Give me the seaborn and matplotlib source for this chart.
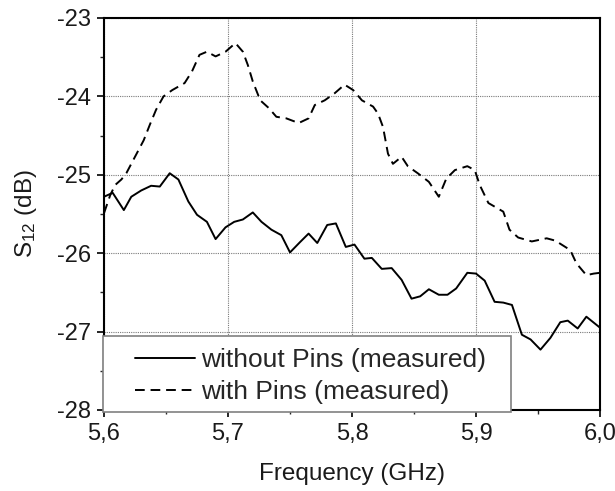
import numpy as np
import pandas as pd
import matplotlib
matplotlib.use("Agg")
import matplotlib.pyplot as plt
import seaborn as sns
from matplotlib.ticker import MultipleLocator, FuncFormatter
from matplotlib.patches import Rectangle

# ---- data ----
freq_without = [5.600, 5.607, 5.616, 5.622, 5.630, 5.638, 5.645, 5.653, 5.660, 5.668,
                5.675, 5.683, 5.690, 5.698, 5.705, 5.712, 5.720, 5.727, 5.735, 5.743,
                5.750, 5.758, 5.765, 5.772, 5.780, 5.787, 5.795, 5.802, 5.810, 5.816,
                5.824, 5.832, 5.840, 5.848, 5.855, 5.862, 5.870, 5.877, 5.884, 5.893,
                5.900, 5.907, 5.915, 5.922, 5.929, 5.937, 5.944, 5.952, 5.960, 5.968,
                5.974, 5.982, 5.989, 6.000]
s12_without = [-25.28, -25.23, -25.45, -25.28, -25.20, -25.14, -25.15, -24.98, -25.06, -25.34,
               -25.51, -25.60, -25.82, -25.67, -25.60, -25.57, -25.48, -25.60, -25.70, -25.77,
               -25.99, -25.86, -25.75, -25.87, -25.64, -25.62, -25.92, -25.89, -26.07, -26.06,
               -26.20, -26.19, -26.34, -26.58, -26.55, -26.46, -26.53, -26.53, -26.45, -26.25,
               -26.26, -26.35, -26.62, -26.63, -26.66, -27.04, -27.10, -27.23, -27.08, -26.88,
               -26.86, -26.96, -26.81, -26.95]

freq_with = [5.600, 5.605, 5.609, 5.614, 5.618, 5.625, 5.632, 5.637, 5.642, 5.648,
             5.655, 5.665, 5.671, 5.677, 5.683, 5.690, 5.698, 5.706, 5.712, 5.716,
             5.720, 5.726, 5.733, 5.739, 5.747, 5.757, 5.765, 5.770, 5.778, 5.786,
             5.794, 5.801, 5.808, 5.817, 5.821, 5.825, 5.829, 5.833, 5.840, 5.845,
             5.853, 5.862, 5.870, 5.876, 5.883, 5.893, 5.899, 5.903, 5.910, 5.922,
             5.927, 5.934, 5.945, 5.957, 5.964, 5.969, 5.976, 5.981, 5.989, 5.995,
             6.000]
s12_with = [-25.49, -25.26, -25.13, -25.06, -24.98, -24.77, -24.56, -24.36, -24.17, -24.00,
            -23.92, -23.83, -23.68, -23.47, -23.43, -23.49, -23.43, -23.32, -23.43, -23.60,
            -23.81, -24.05, -24.15, -24.26, -24.28, -24.34, -24.28, -24.11, -24.05, -23.96,
            -23.85, -23.92, -24.05, -24.13, -24.22, -24.39, -24.73, -24.86, -24.77, -24.89,
            -24.98, -25.09, -25.28, -25.05, -24.94, -24.89, -24.94, -25.13, -25.36, -25.47,
            -25.70, -25.80, -25.85, -25.81, -25.84, -25.89, -25.96, -26.13, -26.28, -26.26,
            -26.25]

label_without = "without Pins (measured)"
label_with = "with Pins (measured)"

x_ticks = [5.6, 5.7, 5.8, 5.9, 6.0]
y_ticks = [-28, -27, -26, -25, -24, -23]

# ---- styling ----
sns.set_style("white")
plt.rcParams['font.family'] = ['Liberation Sans', 'DejaVu Sans']
plt.rcParams['mathtext.fontset'] = 'custom'
plt.rcParams['mathtext.rm'] = 'Liberation Sans'
plt.rcParams['mathtext.it'] = 'Liberation Sans'

df_without = pd.DataFrame({"f": freq_without, "s": s12_without})
df_with = pd.DataFrame({"f": freq_with, "s": s12_with})

fig = plt.figure(figsize=(6.15, 4.91), dpi=100)
ax = fig.add_axes([104/615, 1-410/491, 496/615, 392/491])

sns.lineplot(data=df_without, x="f", y="s", ax=ax, color="black", lw=1.4,
             label=label_without, sort=False, zorder=3)
sns.lineplot(data=df_with, x="f", y="s", ax=ax, color="black", lw=1.4,
             label=label_with, sort=False, zorder=3)
ax.lines[1].set_dashes((5, 3))

ax.set_xlim(5.6, 6.0)
ax.set_ylim(-28, -23)
ax.set_xticks(x_ticks)
ax.set_yticks(y_ticks)
ax.xaxis.set_minor_locator(MultipleLocator(0.05))
ax.yaxis.set_minor_locator(MultipleLocator(0.5))
ax.xaxis.set_major_formatter(FuncFormatter(lambda v, p: f"{v:.1f}".replace(".", ",")))
ax.yaxis.set_major_formatter(FuncFormatter(lambda v, p: f"{v:.0f}"))

ax.tick_params(which="major", direction="out", length=5, width=1.2, labelsize=17,
               color="black", labelcolor="#1a1a1a", left=True, bottom=True)
ax.tick_params(axis="x", which="major", pad=4.5)
ax.tick_params(axis="y", which="major", pad=4)
ax.tick_params(which="minor", direction="out", length=3, width=1.0, left=True, bottom=True)
ax.grid(True, which="major", color="#7a7a7a", linestyle=(0, (1, 1)), linewidth=0.8, zorder=1)
ax.set_axisbelow(True)
for sp in ax.spines.values():
    sp.set_visible(True)
    sp.set_color("black")
    sp.set_linewidth(1.5)

ax.set_xlabel("Frequency (GHz)", fontsize=17.5, color="#1a1a1a")
ax.xaxis.label.set_va("center")
ax.xaxis.set_label_coords(0.5, -0.1645)
ax.set_ylabel(r"S$_{12}$ (dB)", fontsize=17.5, color="#1a1a1a")
ax.yaxis.label.set_va("center")
ax.yaxis.set_label_coords(-0.158, 0.5)

# legend: frame drawn separately to match the reference layout
leg = ax.legend(loc="lower left", bbox_to_anchor=(0.0625, 0.015), frameon=False,
                fontsize=19, handlelength=2.27, handletextpad=0.24, labelspacing=0.3,
                borderpad=0, borderaxespad=0)
leg.set_zorder(6)
rect = Rectangle((-0.002, -0.004), (512-104)/496, (412-336)/392, transform=ax.transAxes,
                 facecolor="white", edgecolor="#808080", linewidth=1.2, zorder=5,
                 clip_on=False)
ax.add_patch(rect)

fig.savefig("out.png", dpi=100)
